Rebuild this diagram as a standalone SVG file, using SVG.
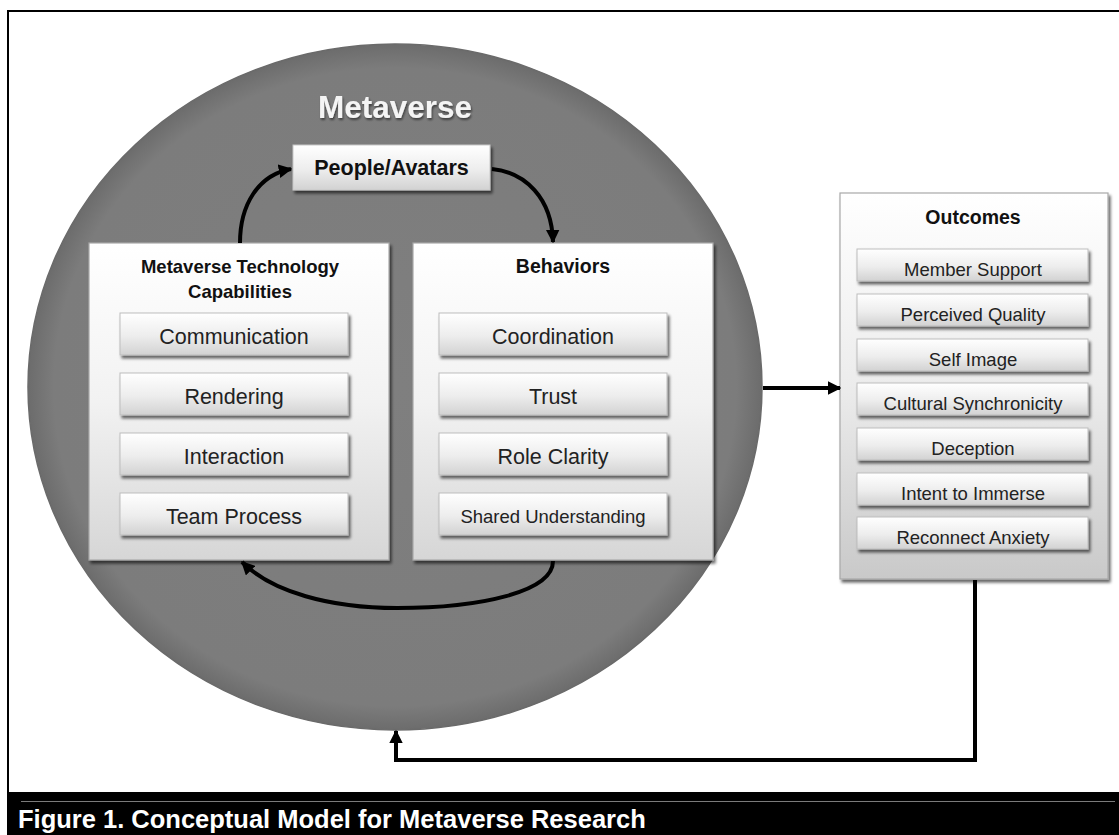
<svg xmlns="http://www.w3.org/2000/svg" width="1119" height="835" viewBox="0 0 1119 835">
<defs>
<radialGradient id="gCircle" cx="0.5" cy="0.5" r="0.5">
<stop offset="0" stop-color="#7f7f7f"/>
<stop offset="0.93" stop-color="#7c7c7c"/>
<stop offset="1" stop-color="#6c6c6c"/>
</radialGradient>
<linearGradient id="gPanel" x1="0" y1="0" x2="0" y2="1">
<stop offset="0" stop-color="#ffffff"/>
<stop offset="0.5" stop-color="#f2f2f2"/>
<stop offset="1" stop-color="#d6d6d6"/>
</linearGradient>
<linearGradient id="gOut" x1="0" y1="0" x2="0" y2="1">
<stop offset="0" stop-color="#ffffff"/>
<stop offset="0.5" stop-color="#ececec"/>
<stop offset="1" stop-color="#c9c9c9"/>
</linearGradient>
<linearGradient id="gBtn" x1="0" y1="0" x2="0" y2="1">
<stop offset="0" stop-color="#ffffff"/>
<stop offset="0.55" stop-color="#ededed"/>
<stop offset="1" stop-color="#d2d2d2"/>
</linearGradient>
<filter id="shadow" x="-10%" y="-10%" width="125%" height="130%">
<feGaussianBlur in="SourceAlpha" stdDeviation="1.5"/>
<feOffset dx="1.5" dy="2.5" result="o"/>
<feComponentTransfer><feFuncA type="linear" slope="0.6"/></feComponentTransfer>
<feMerge><feMergeNode/><feMergeNode in="SourceGraphic"/></feMerge>
</filter>
<filter id="tshadow" x="-10%" y="-20%" width="120%" height="150%">
<feGaussianBlur in="SourceAlpha" stdDeviation="1"/>
<feOffset dx="1" dy="1.5"/>
<feComponentTransfer><feFuncA type="linear" slope="0.5"/></feComponentTransfer>
<feMerge><feMergeNode/><feMergeNode in="SourceGraphic"/></feMerge>
</filter>
<marker id="ah" viewBox="0 0 10 10" refX="9" refY="5" markerWidth="3.4" markerHeight="3.4" orient="auto" markerUnits="strokeWidth">
<path d="M0,0 L10,5 L0,10 Z" fill="#000"/>
</marker>
</defs>
<style>
.t{font-family:"Liberation Sans",Arial,sans-serif;text-anchor:middle;fill:#222}
.b{font-weight:bold;fill:#111}
.btn{fill:url(#gBtn);stroke:#bdbdbd;stroke-width:1}
.panel{fill:url(#gPanel);stroke:#a8a8a8;stroke-width:1.2}
.conn{fill:none;stroke:#000;stroke-width:4}
</style>
<rect x="0" y="0" width="1119" height="835" fill="#fff"/>
<rect x="8" y="11" width="1116" height="782" fill="none" stroke="#000" stroke-width="2"/>

<g id="metaverse">
<ellipse cx="395" cy="387" rx="367" ry="343" fill="url(#gCircle)" stroke="#6a6a6a" stroke-width="1.5"/>
<text x="395" y="118" class="t b" font-size="31.5" style="fill:#f4f4f4" filter="url(#tshadow)">Metaverse</text>
</g>

<g id="people">
<rect x="293" y="145" width="197" height="45" fill="url(#gBtn)" stroke="#c8c8c8" filter="url(#shadow)"/>
<text x="391.5" y="175" class="t b" font-size="21.5">People/Avatars</text>
</g>

<g id="capabilities">
<rect x="89" y="243" width="300" height="317" class="panel" filter="url(#shadow)"/>
<text x="240" y="273" class="t b" font-size="18.5">Metaverse Technology</text>
<text x="240" y="298" class="t b" font-size="18.5">Capabilities</text>
<rect x="120" y="313" width="228" height="42" class="btn" filter="url(#shadow)"/>
<text x="234" y="344" class="t" font-size="21.5">Communication</text>
<rect x="120" y="373" width="228" height="42" class="btn" filter="url(#shadow)"/>
<text x="234" y="404" class="t" font-size="21.5">Rendering</text>
<rect x="120" y="433" width="228" height="42" class="btn" filter="url(#shadow)"/>
<text x="234" y="464" class="t" font-size="21.5">Interaction</text>
<rect x="120" y="493" width="228" height="42" class="btn" filter="url(#shadow)"/>
<text x="234" y="524" class="t" font-size="21.5">Team Process</text>
</g>

<g id="behaviors">
<rect x="413" y="243" width="300" height="317" class="panel" filter="url(#shadow)"/>
<text x="563" y="273" class="t b" font-size="19.5">Behaviors</text>
<rect x="439" y="313" width="228" height="42" class="btn" filter="url(#shadow)"/>
<text x="553" y="344" class="t" font-size="21.5">Coordination</text>
<rect x="439" y="373" width="228" height="42" class="btn" filter="url(#shadow)"/>
<text x="553" y="404" class="t" font-size="21.5">Trust</text>
<rect x="439" y="433" width="228" height="42" class="btn" filter="url(#shadow)"/>
<text x="553" y="464" class="t" font-size="21.5">Role Clarity</text>
<rect x="439" y="493" width="228" height="42" class="btn" filter="url(#shadow)"/>
<text x="553" y="523" class="t" font-size="18.5">Shared Understanding</text>
</g>

<g id="outcomes">
<rect x="840" y="193" width="268" height="386" fill="url(#gOut)" stroke="#a8a8a8" stroke-width="1.2" filter="url(#shadow)"/>
<text x="973" y="224" class="t b" font-size="19.5">Outcomes</text>
<rect x="857" y="249" width="231" height="32" class="btn" filter="url(#shadow)"/>
<text x="973" y="276" class="t" font-size="18.5">Member Support</text>
<rect x="857" y="294" width="231" height="32" class="btn" filter="url(#shadow)"/>
<text x="973" y="321" class="t" font-size="18.5">Perceived Quality</text>
<rect x="857" y="339" width="231" height="32" class="btn" filter="url(#shadow)"/>
<text x="973" y="366" class="t" font-size="18.5">Self Image</text>
<rect x="857" y="383" width="231" height="32" class="btn" filter="url(#shadow)"/>
<text x="973" y="410" class="t" font-size="18.5">Cultural Synchronicity</text>
<rect x="857" y="428" width="231" height="32" class="btn" filter="url(#shadow)"/>
<text x="973" y="455" class="t" font-size="18.5">Deception</text>
<rect x="857" y="473" width="231" height="32" class="btn" filter="url(#shadow)"/>
<text x="973" y="500" class="t" font-size="18.5">Intent to Immerse</text>
<rect x="857" y="517" width="231" height="32" class="btn" filter="url(#shadow)"/>
<text x="973" y="544" class="t" font-size="18.5">Reconnect Anxiety</text>
</g>

<g id="connectors">
<path class="conn" d="M240,243 C240,205 258,175 291,169" marker-end="url(#ah)"/>
<path class="conn" d="M492,169 C525,172 552,198 553,242" marker-end="url(#ah)"/>
<path class="conn" d="M553,561 C553,592 480,608 397,608 C330,608 272,592 242,562" marker-end="url(#ah)"/>
<path class="conn" d="M763,388 L840,388" marker-end="url(#ah)"/>
<path class="conn" d="M975,580 L975,760 L396,760 L396,731" marker-end="url(#ah)"/>
</g>

<g id="caption">
<rect x="7" y="792" width="1112" height="43" fill="#000"/>
<line x1="21" y1="801.5" x2="1115" y2="801.5" stroke="#7a7a7a" stroke-width="1"/>
<text x="18" y="828" font-family="Liberation Sans, Arial, sans-serif" font-weight="bold" font-size="25.5" fill="#fff">Figure 1. Conceptual Model for Metaverse Research</text>
</g>
</svg>
